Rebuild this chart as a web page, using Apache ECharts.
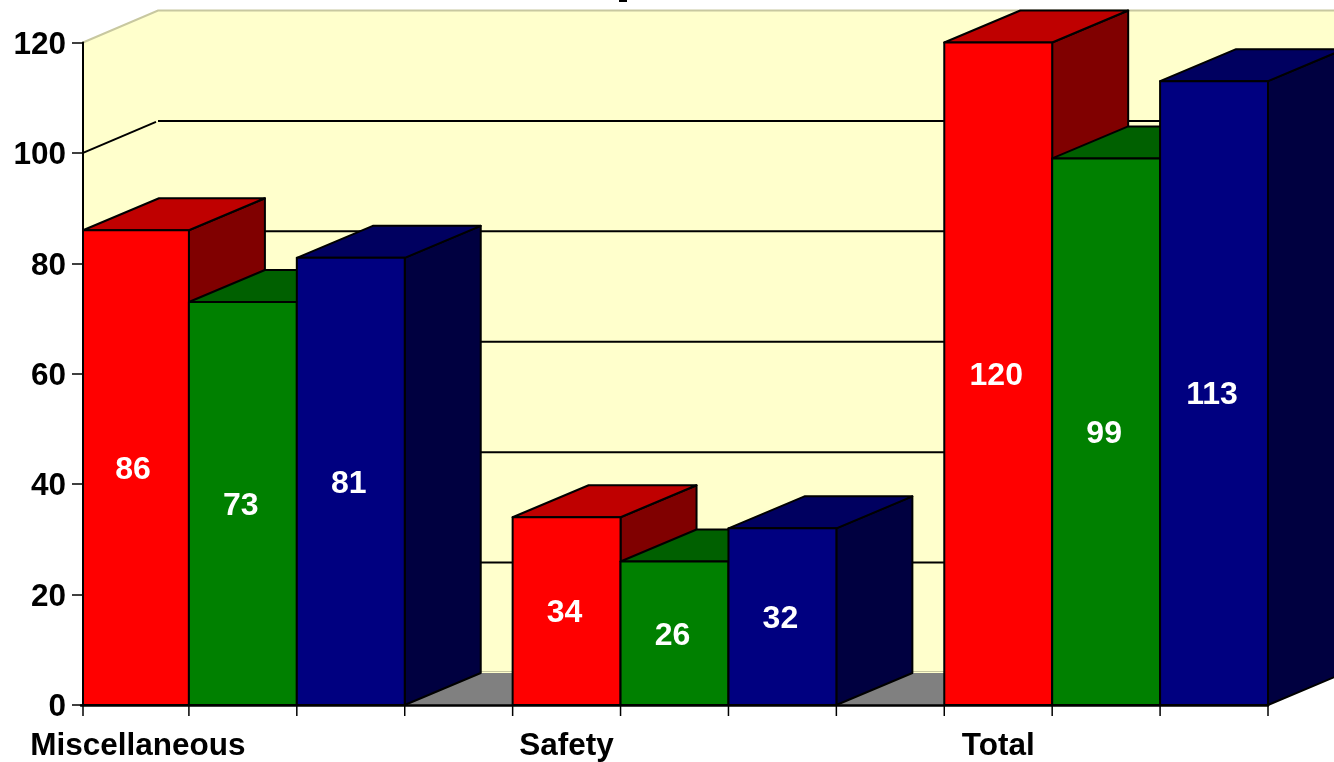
<!DOCTYPE html>
<html>
<head>
<meta charset="utf-8">
<style>
  html, body { margin: 0; padding: 0; background: #fff; }
  #chart { width: 1334px; height: 762px; }
</style>
<script src="https://cdn.jsdelivr.net/npm/echarts@6/dist/echarts.min.js"></script>
</head>
<body>
<div id="chart"></div>
<script>
// Values per category, one array per bar colour
const categories = ['Miscellaneous', 'Safety', 'Total'];
const redValues = [86, 34, 120];
const greenValues = [73, 26, 99];
const blueValues = [81, 32, 113];
const valueTicks = [20, 40, 60, 80, 100];

// Each category spans three bars plus one empty slot (the last has no gap)
const barsPerGroup = 3;
const groupSlots = barsPerGroup + 1;
const slotLabels = [];
categories.forEach((name, i) => {
  slotLabels.push(name, '', '');
  if (i < categories.length - 1) slotLabels.push('');
});

// Oblique projection offsets of the chart's depth, in pixels
const WALL_DEPTH_X = 75;
const BAR_DEPTH_X = 76;
const DEPTH_Y = 32;
// The plot starts slightly inside the first slot, so the first bar is a little narrower
const WALL_INSET = 2;
const FONT = '"Liberation Sans", Arial, sans-serif';

const poly = (points, fill, stroke, lineWidth) => ({
  type: 'polygon',
  shape: { points },
  style: { fill, stroke: stroke || 'none', lineWidth: lineWidth || 0, lineJoin: 'round' }
});

const plotLeft = (api) => {
  const slot = api.size([1, 0])[0];
  return api.coord([0, 0])[0] - slot / 2 + WALL_INSET;
};

const renderWalls = (params, api) => {
  const slot = api.size([1, 0])[0];
  const y0 = api.coord([0, 0])[1];
  const left = plotLeft(api);
  const right = left - WALL_INSET + slot * slotLabels.length;
  const yTop = api.coord([0, 120])[1];
  const bx = left + WALL_DEPTH_X;
  const rx = right + WALL_DEPTH_X;
  const wall = '#FFFFCC';
  const edge = '#C8C8A0';
  return { type: 'group', children: [
    poly([[left, y0], [left, yTop], [bx, yTop - DEPTH_Y], [bx, y0 - DEPTH_Y]], wall),
    poly([[bx, y0 - DEPTH_Y], [bx, yTop - DEPTH_Y], [rx, yTop - DEPTH_Y], [rx, y0 - DEPTH_Y]], wall),
    poly([[left, y0], [right, y0], [rx, y0 - DEPTH_Y], [bx, y0 - DEPTH_Y]], '#808080'),
    { type: 'polyline', shape: { points: [[left, yTop], [bx, yTop - DEPTH_Y], [rx, yTop - DEPTH_Y]] },
      style: { fill: 'none', stroke: edge, lineWidth: 2 } },
    { type: 'line', shape: { x1: bx, y1: y0 - DEPTH_Y - 1.5, x2: rx, y2: y0 - DEPTH_Y - 1.5 },
      style: { stroke: edge, lineWidth: 1 } }
  ] };
};

const renderGridline = (params, api) => {
  const slot = api.size([1, 0])[0];
  const y = api.coord([0, api.value(0)])[1];
  const left = plotLeft(api);
  const bx = left + WALL_DEPTH_X;
  const rx = left - WALL_INSET + slot * slotLabels.length + WALL_DEPTH_X;
  const by = y - DEPTH_Y;
  const style = { stroke: '#000', lineWidth: 2 };
  return { type: 'group', children: [
    { type: 'line', shape: { x1: left, y1: y, x2: bx - 2, y2: by + 1 }, style },
    { type: 'line', shape: { x1: bx, y1: by, x2: rx, y2: by }, style }
  ] };
};

// Tick marks at slot boundaries; the first one sits on the plot's left edge
const renderSlotTick = (params, api) => {
  const slot = api.size([1, 0])[0];
  const y0 = api.coord([0, 0])[1];
  const x = Math.max(plotLeft(api), api.coord([api.value(0), 0])[0] - slot / 2);
  return { type: 'line', shape: { x1: x, y1: y0, x2: x, y2: y0 + 11 },
    style: { stroke: '#000', lineWidth: 1.5 } };
};

const makeBarRenderer = (front, top, side) => (params, api) => {
  const value = api.value(1);
  const [cx, yTop] = api.coord([api.value(0), value]);
  const yBase = api.coord([api.value(0), 0])[1];
  const w = api.size([1, 0])[0];
  const l = Math.max(plotLeft(api), cx - w / 2);
  const r = cx + w / 2;
  const stroke = '#000';
  const lw = 2;
  return { type: 'group', children: [
    poly([[r, yBase], [r, yTop], [r + BAR_DEPTH_X, yTop - DEPTH_Y], [r + BAR_DEPTH_X, yBase - DEPTH_Y]], side, stroke, lw),
    poly([[l, yTop], [r, yTop], [r + BAR_DEPTH_X, yTop - DEPTH_Y], [l + BAR_DEPTH_X, yTop - DEPTH_Y]], top, stroke, lw),
    poly([[l, yBase], [l, yTop], [r, yTop], [r, yBase]], front, stroke, lw),
    { type: 'text', z2: 10, style: {
        x: cx - 2, y: (yTop + yBase) / 2 + 2.5, text: String(value),
        fill: '#fff', font: `bold 32px ${FONT}`, align: 'center', verticalAlign: 'middle'
    } }
  ] };
};

const barSeries = (values, offset, front, top, side) => ({
  type: 'custom',
  z: 4,
  silent: true,
  clip: false,
  renderItem: makeBarRenderer(front, top, side),
  encode: { x: 0, y: 1 },
  data: values.map((v, i) => [i * groupSlots + offset, v])
});

const chart = echarts.init(document.getElementById('chart'), null, { renderer: 'canvas' });
chart.setOption({
  animation: false,
  backgroundColor: '#fff',
  grid: { left: 81, right: 66, top: 42.5, bottom: 55.5 },
  xAxis: {
    type: 'category',
    data: slotLabels.map((label, i) =>
      i === 0 ? { value: label, textStyle: { padding: [0, 0, 0, 6] } } : label),
    boundaryGap: true,
    z: 6,
    axisLine: { show: true, lineStyle: { color: '#000', width: 2.5 } },
    axisTick: { show: false },
    axisLabel: { show: true, interval: 0, margin: 25, color: '#000', fontFamily: FONT, fontWeight: 'bold', fontSize: 31.5 },
    splitLine: { show: false }
  },
  yAxis: {
    type: 'value',
    min: 0,
    max: 120,
    interval: 20,
    offset: -2,
    z: 6,
    axisLine: { show: true, lineStyle: { color: '#000', width: 2 } },
    axisTick: { show: true, length: 11, lineStyle: { color: '#000', width: 1.5 } },
    axisLabel: { show: true, margin: 17, verticalAlign: 'top', lineHeight: 5, color: '#000', fontFamily: FONT, fontWeight: 'bold', fontSize: 31.5 },
    splitLine: { show: false }
  },
  series: [
    { type: 'custom', z: 1, silent: true, clip: false, renderItem: renderWalls, data: [[0]] },
    { type: 'custom', z: 2, silent: true, clip: false, renderItem: renderGridline,
      encode: { y: 0 }, data: valueTicks.map(v => [v]) },
    barSeries(redValues, 0, '#FF0000', '#BF0000', '#800000'),
    barSeries(greenValues, 1, '#008000', '#006000', '#004000'),
    barSeries(blueValues, 2, '#000080', '#000060', '#000040'),
    { type: 'custom', z: 5, silent: true, clip: false, renderItem: renderSlotTick,
      encode: { x: 0 }, data: Array.from({ length: slotLabels.length + 1 }, (_, i) => [i]) }
  ],
  graphic: [
    // Descender of the heading, which sits above the top edge of the page
    { type: 'rect', shape: { x: 619, y: 0, width: 8, height: 2 }, style: { fill: '#000' }, silent: true }
  ]
});
</script>
</body>
</html>
